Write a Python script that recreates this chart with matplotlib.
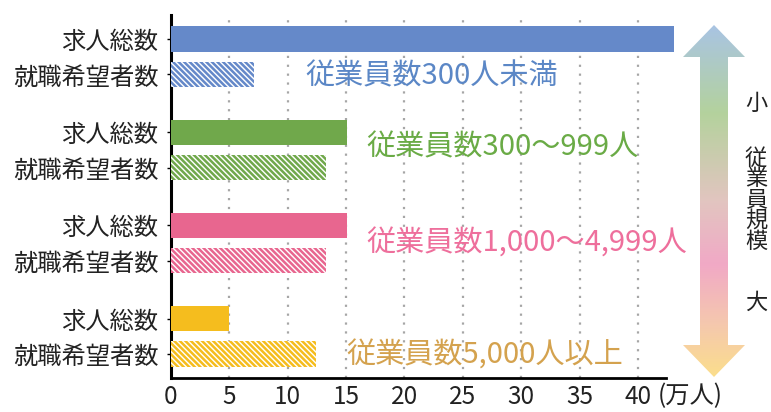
import numpy as np
import matplotlib
matplotlib.use("Agg")
import matplotlib.pyplot as plt
from matplotlib.colors import LinearSegmentedColormap
from matplotlib.patches import Polygon

plt.rcParams["font.family"] = ["Noto Sans CJK JP", "DejaVu Sans"]
plt.rcParams["hatch.linewidth"] = 1.8

# data (万人)
size_labels = ["従業員数300人未満", "従業員数300～999人",
               "従業員数1,000～4,999人", "従業員数5,000人以上"]
job_openings = [43.1, 15.1, 15.1, 5.0]     # 求人総数
job_seekers = [7.1, 13.3, 13.3, 12.4]      # 就職希望者数
row_names = ["求人総数", "就職希望者数"]
x_ticks = [0, 5, 10, 15, 20, 25, 30, 35, 40]

bar_colors = ["#6589C9", "#70A84B", "#E8668F", "#F5BD1E"]
text_colors = ["#5B87C6", "#6AAB46", "#EE6F9C", "#D4A24E"]
# label anchor (x in 万人, y in group units)
label_pos = [(11.5, 0.40), (16.7, 1.16), (16.7, 2.20), (15.0, 3.40)]

GAP = 0.38     # offset of the 就職希望者数 bar inside a group
BAR_H = 0.27
MARGIN = 0.257

fig = plt.figure(figsize=(7.71, 4.12), dpi=100)
ax = fig.add_axes([0.2218, 0.0825, 0.8638 - 0.2218, 0.9636 - 0.0825])

groups = np.arange(len(size_labels))
for g in groups:
    ax.barh(g, job_openings[g], height=BAR_H, color=bar_colors[g],
            linewidth=0, zorder=3, clip_on=False)
    ax.barh(g + GAP, job_seekers[g], height=BAR_H, color="white",
            edgecolor=bar_colors[g], hatch="\\" * 6, linewidth=0, zorder=3)
    lx, ly = label_pos[g]
    ax.text(lx, ly, size_labels[g], color=text_colors[g], fontsize=21,
            ha="left", va="center", zorder=4)

ax.set_xlim(0, 42.4)
ax.set_ylim(groups[-1] + GAP + MARGIN, -MARGIN)

yt = np.sort(np.concatenate([groups, groups + GAP]))
ax.set_yticks(yt)
ax.set_yticklabels(row_names * len(groups), fontsize=17.5, color="#222222")
ax.tick_params(axis="y", length=3, width=1, pad=6)

ax.set_xticks(x_ticks)
ax.set_xticklabels([str(t) for t in x_ticks], fontsize=17.5, color="#222222")
ax.tick_params(axis="x", length=0, pad=4)
ax.annotate("(万人)", xy=(40, 0), xycoords=("data", "axes fraction"),
            xytext=(14, -4), textcoords="offset points",
            ha="left", va="top", fontsize=17.5, color="#222222")

ax.grid(axis="x", color="#A6A6A6", linestyle=(0, (1, 3)), linewidth=1.6,
        zorder=0)
ax.grid(axis="y", visible=False)
for s in ["top", "right"]:
    ax.spines[s].set_visible(False)
ax.spines["left"].set_linewidth(2.2)
ax.spines["bottom"].set_linewidth(2.0)

# gradient double arrow on the right
ov = fig.add_axes([0, 0, 1, 1])
ov.set_xlim(0, 771)
ov.set_ylim(412, 0)
ov.axis("off")

cx, top, bot = 714, 25, 377
head_w, shaft_w, head_h = 31, 14, 32
arrow = Polygon([
    (cx, top), (cx + head_w, top + head_h), (cx + shaft_w, top + head_h),
    (cx + shaft_w, bot - head_h), (cx + head_w, bot - head_h), (cx, bot),
    (cx - head_w, bot - head_h), (cx - shaft_w, bot - head_h),
    (cx - shaft_w, top + head_h), (cx - head_w, top + head_h)],
    closed=True, facecolor="none", edgecolor="none")
ov.add_patch(arrow)
grad_cmap = LinearSegmentedColormap.from_list("scale", [
    (0.0, "#A9C4E3"), (0.25, "#B4D29D"), (0.5, "#E2C5C0"),
    (0.68, "#F1A9C6"), (0.85, "#F5C8AE"), (1.0, "#FBDE8C")])
grad = np.linspace(0, 1, 256).reshape(-1, 1)
im = ov.imshow(grad, cmap=grad_cmap, aspect="auto",
               extent=(cx - head_w, cx + head_w, bot, top), zorder=1)
im.set_clip_path(arrow)

tx = 756
ov.text(tx, 103, "小", fontsize=16, ha="center", va="center", color="#222222")
for i, ch in enumerate("従業員規模"):
    ov.text(tx, 158 + i * 20.8, ch, fontsize=16, ha="center", va="center",
            color="#222222")
ov.text(tx, 302, "大", fontsize=16, ha="center", va="center", color="#222222")

fig.savefig("out.png", dpi=100)
